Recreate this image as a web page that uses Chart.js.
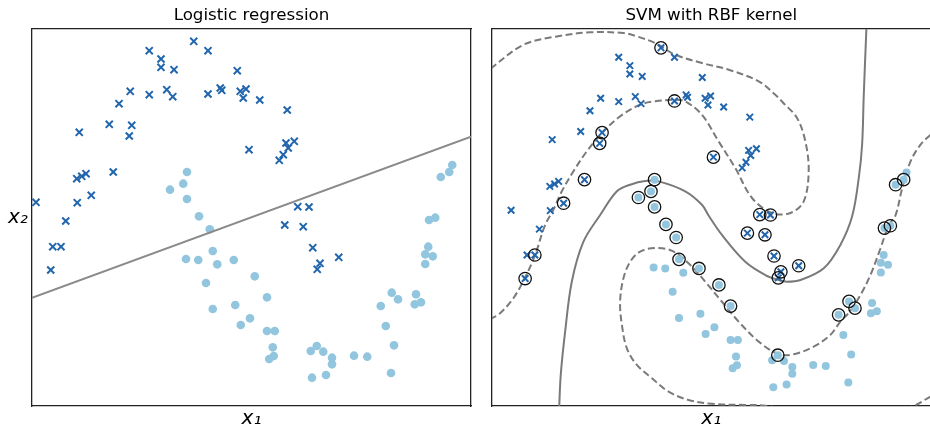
<!DOCTYPE html>
<html>
<head>
<meta charset="utf-8">
<script src="https://cdn.jsdelivr.net/npm/chart.js@4.4.1/dist/chart.umd.min.js"></script>
<style>
  body { margin: 0; background: #fff; width: 930px; height: 430px; position: relative; overflow: hidden; }
  .panel { position: absolute; top: 0; }
  #lr-wrap { left: 0; }
  #svm-wrap { left: 484px; }
  #ylab { position: absolute; left: 8px; top: 206px; font: italic 20px 'DejaVu Sans'; line-height: 20px; color: #000; }
</style>
</head>
<body>
<div class="panel" id="lr-wrap"><canvas id="lr-chart" width="480" height="430"></canvas></div>
<div class="panel" id="svm-wrap"><canvas id="svm-chart" width="454" height="430"></canvas></div>
<div id="ylab">x₂</div>
<script>
// class 1 (upper moon, crosses)
var crossX = [-0.262, -0.168, -0.168, -0.064, -0.414, -0.262, -0.122, -0.074, -0.504, -0.582, -0.402, -0.422, -0.822, -0.550, -0.842, -0.802, -0.768, -0.726, -1.168, -0.838, -0.930, 0.094, 0.208, 0.442, 0.208, 0.306, 0.318, 0.466, 0.512, 0.490, 0.622, 0.842, 0.536, 0.832, 0.898, 0.850, 0.810, 0.778, 0.926, 1.016, -1.034, -0.968, -1.050, 0.822, 0.970, 1.046, 1.104, 1.082, 1.254];
var crossY = [1.076, 1.026, 0.976, 0.962, 0.832, 0.812, 0.842, 0.800, 0.758, 0.634, 0.628, 0.564, 0.586, 0.348, 0.308, 0.322, 0.338, 0.208, 0.166, 0.164, 0.054, 1.132, 1.076, 0.956, 0.816, 0.852, 0.838, 0.832, 0.846, 0.792, 0.780, 0.720, 0.482, 0.522, 0.532, 0.492, 0.452, 0.418, 0.140, 0.138, -0.100, -0.100, -0.240, 0.030, 0.020, -0.106, -0.200, -0.236, -0.164];

// class 0 (lower moon, dots)
var dotX = [-0.096, 0.040, 0.010, 0.040, 0.136, 0.222, 0.032, 0.130, 0.246, 0.282, 0.414, 0.582, 0.192, 0.680, 0.246, 0.426, 0.544, 0.470, 0.680, 0.742, 0.726, 0.734, 0.698, 1.030, 1.078, 1.130, 1.040, 1.152, 1.200, 1.200, 1.376, 1.482, 1.672, 1.696, 1.630, 1.590, 1.678, 1.728, 1.872, 1.862, 1.912, 1.946, 1.946, 2.006, 1.970, 1.976, 2.026, 2.070, 2.138, 2.162];
var dotY = [0.242, 0.348, 0.278, 0.186, 0.082, 0.004, -0.174, -0.180, -0.126, -0.206, -0.180, -0.278, -0.318, -0.404, -0.474, -0.450, -0.530, -0.570, -0.606, -0.606, -0.704, -0.756, -0.774, -0.726, -0.696, -0.730, -0.886, -0.870, -0.766, -0.806, -0.754, -0.760, -0.858, -0.692, -0.576, -0.456, -0.376, -0.416, -0.386, -0.446, -0.434, -0.204, -0.146, -0.158, -0.100, 0.060, 0.074, 0.318, 0.348, 0.390];

// support vectors of the RBF SVM
var svX = [-0.402, -0.422, -0.550, -0.726, 0.094, 0.208, 0.536, 0.926, 1.016, -0.968, -1.050, 0.822, 0.970, 1.046, 1.104, 1.082, 1.254,
           -0.096, 0.040, 0.010, 0.040, 0.136, 0.222, 0.246, 0.414, 0.582, 0.680, 1.078, 1.590, 1.678, 1.728, 1.976, 2.026, 2.070, 2.138];
var svY = [0.628, 0.564, 0.348, 0.208, 1.132, 0.816, 0.482, 0.140, 0.138, -0.100, -0.240, 0.030, 0.020, -0.106, -0.200, -0.236, -0.164,
           0.242, 0.348, 0.278, 0.186, 0.082, 0.004, -0.126, -0.180, -0.278, -0.404, -0.696, -0.456, -0.376, -0.416, 0.060, 0.074, 0.318, 0.348];

// logistic regression decision line
var lrLineX = [-1.2, 2.312];
var lrLineY = [-0.407, 0.560];

// SVM decision function contours (levels 0, +1, -1)
var boundaryX = [-0.764, -0.750, -0.713, -0.657, -0.559, -0.418, -0.277, -0.165, -0.039, 0.073, 0.298, 0.439, 0.495, 0.608, 0.804, 0.973, 1.085, 1.156, 1.268, 1.465, 1.605, 1.704, 1.760, 1.788, 1.802, 1.825];
var boundaryY = [-1.021, -0.813, -0.556, -0.259, -0.021, 0.138, 0.279, 0.318, 0.340, 0.338, 0.279, 0.199, 0.135, 0.019, -0.140, -0.219, -0.249, -0.259, -0.249, -0.179, -0.040, 0.130, 0.358, 0.556, 0.853, 1.262];
var marginUpX = [-1.346, -1.261, -1.149, -1.051, -0.966, -0.882, -0.812, -0.741, -0.643, -0.530, -0.395, -0.250, -0.081, 0.046, 0.220, 0.298, 0.439, 0.579, 0.720, 0.861, 1.030, 1.184, 1.296, 1.338, 1.310, 1.240, 1.125, 1.057, 0.917, 0.664, 0.439, 0.214, 0.046, -0.109, -0.222, -0.503, -0.783, -1.065, -1.346];
var marginUpY = [-0.483, -0.446, -0.357, -0.235, -0.100, 0.078, 0.169, 0.279, 0.398, 0.517, 0.631, 0.725, 0.794, 0.814, 0.823, 0.814, 0.734, 0.576, 0.417, 0.239, 0.150, 0.150, 0.219, 0.398, 0.576, 0.715, 0.804, 0.853, 0.933, 1.002, 1.042, 1.091, 1.160, 1.200, 1.220, 1.224, 1.200, 1.150, 1.006];
var marginLowX = [2.364, 2.280, 2.196, 2.126, 2.069, 2.013, 1.943, 1.858, 1.774, 1.684, 1.605, 1.521, 1.380, 1.212, 1.085, 0.917, 0.748, 0.608, 0.467, 0.341, 0.189, 0.046, -0.081, -0.165, -0.222, -0.250, -0.235, -0.193, -0.109, 0.018, 0.158, 0.326, 0.524, 0.804, 0.973, 1.300, 1.605, 1.950, 2.196, 2.364];
var marginLowY = [0.615, 0.556, 0.457, 0.298, 0.135, 0.078, -0.060, -0.219, -0.338, -0.437, -0.496, -0.575, -0.645, -0.690, -0.690, -0.615, -0.496, -0.378, -0.259, -0.159, -0.076, -0.058, -0.080, -0.140, -0.238, -0.378, -0.516, -0.655, -0.754, -0.833, -0.913, -0.962, -0.985, -0.992, -0.996, -1.040, -1.060, -1.040, -1.005, -0.942];

var darkBlue = '#2166ac';
var lightBlue = '#92c5de';
var lineGrey = '#7a7a7a';

Chart.defaults.font.family = "'DejaVu Sans', sans-serif";
Chart.defaults.color = '#000';

function toPoints(xs, ys) {
  return xs.map(function(x, i) {
    return { x: x, y: ys[i] };
  });
}

function frameScales(range, title, leftWidth, rightWidth) {
  var border = { display: true, color: '#222', width: 1.3 };
  var scales = {
    x: {
      type: 'linear', position: 'bottom', min: range[0], max: range[1],
      grid: { display: false }, ticks: { display: false }, border: border,
      title: { display: true, text: 'x₁', font: { size: 20, style: 'italic', lineHeight: 1 }, padding: { top: 0, bottom: 1 } },
      afterFit: function(scale) { scale.height = 24; }
    },
    xTop: {
      type: 'linear', axis: 'x', position: 'top', min: range[0], max: range[1],
      grid: { display: false }, ticks: { display: false }, border: border,
      title: { display: true, text: title, font: { size: 16.7 }, padding: { top: 6, bottom: 0 } },
      afterFit: function(scale) { scale.height = 29; }
    },
    y: {
      type: 'linear', position: 'left', min: range[2], max: range[3],
      grid: { display: false }, ticks: { display: false }, border: border,
      afterFit: function(scale) { scale.width = leftWidth; }
    }
  };
  if (rightWidth) {
    scales.yRight = {
      type: 'linear', axis: 'y', position: 'right', min: range[2], max: range[3],
      grid: { display: false }, ticks: { display: false }, border: border,
      afterFit: function(scale) { scale.width = rightWidth; }
    };
  }
  return scales;
}

function pointSets(crossRadius, dotRadius) {
  return [{
    label: 'class 1',
    data: toPoints(crossX, crossY),
    pointStyle: 'crossRot',
    pointRadius: crossRadius,
    pointBorderColor: darkBlue,
    pointBorderWidth: 2,
    order: 2
  }, {
    label: 'class 0',
    data: toPoints(dotX, dotY),
    pointStyle: 'circle',
    pointRadius: dotRadius,
    pointBackgroundColor: lightBlue,
    pointBorderColor: lightBlue,
    pointBorderWidth: 0,
    order: 3
  }];
}

function contour(xs, ys, dash) {
  return {
    data: toPoints(xs, ys),
    showLine: true,
    pointRadius: 0,
    borderColor: lineGrey,
    borderWidth: 2,
    borderDash: dash,
    tension: 0.35,
    fill: false,
    order: 4
  };
}

var commonOptions = {
  responsive: false,
  animation: false,
  events: [],
  layout: { padding: 0 },
  elements: { line: { capBezierPoints: false } },
  plugins: { legend: { display: false }, tooltip: { enabled: false } }
};

var lrChart = new Chart(document.getElementById('lr-chart'), {
  type: 'scatter',
  data: {
    datasets: pointSets(5, 4.3).concat([{
      label: 'decision line',
      data: toPoints(lrLineX, lrLineY),
      showLine: true,
      pointRadius: 0,
      borderColor: '#8a8a8a',
      borderWidth: 2,
      order: 1
    }])
  },
  options: Object.assign({}, commonOptions, {
    scales: frameScales([-1.2, 2.312, -1.056, 1.206], 'Logistic regression', 32, 9)
  })
});

var svmChart = new Chart(document.getElementById('svm-chart'), {
  type: 'scatter',
  data: {
    datasets: [
      contour(boundaryX, boundaryY, []),
      contour(marginUpX, marginUpY, [7, 3.5]),
      contour(marginLowX, marginLowY, [7, 3.5])
    ].concat(pointSets(4.6, 4)).concat([{
      label: 'support vectors',
      data: toPoints(svX, svY),
      pointStyle: 'circle',
      pointRadius: 6.2,
      pointBackgroundColor: 'rgba(0,0,0,0)',
      pointBorderColor: '#111',
      pointBorderWidth: 1.3,
      order: 1
    }])
  },
  options: Object.assign({}, commonOptions, {
    scales: frameScales([-1.329, 2.364, -0.998, 1.244], 'SVM with RBF kernel', 8, 0)
  })
});
</script>
</body>
</html>
